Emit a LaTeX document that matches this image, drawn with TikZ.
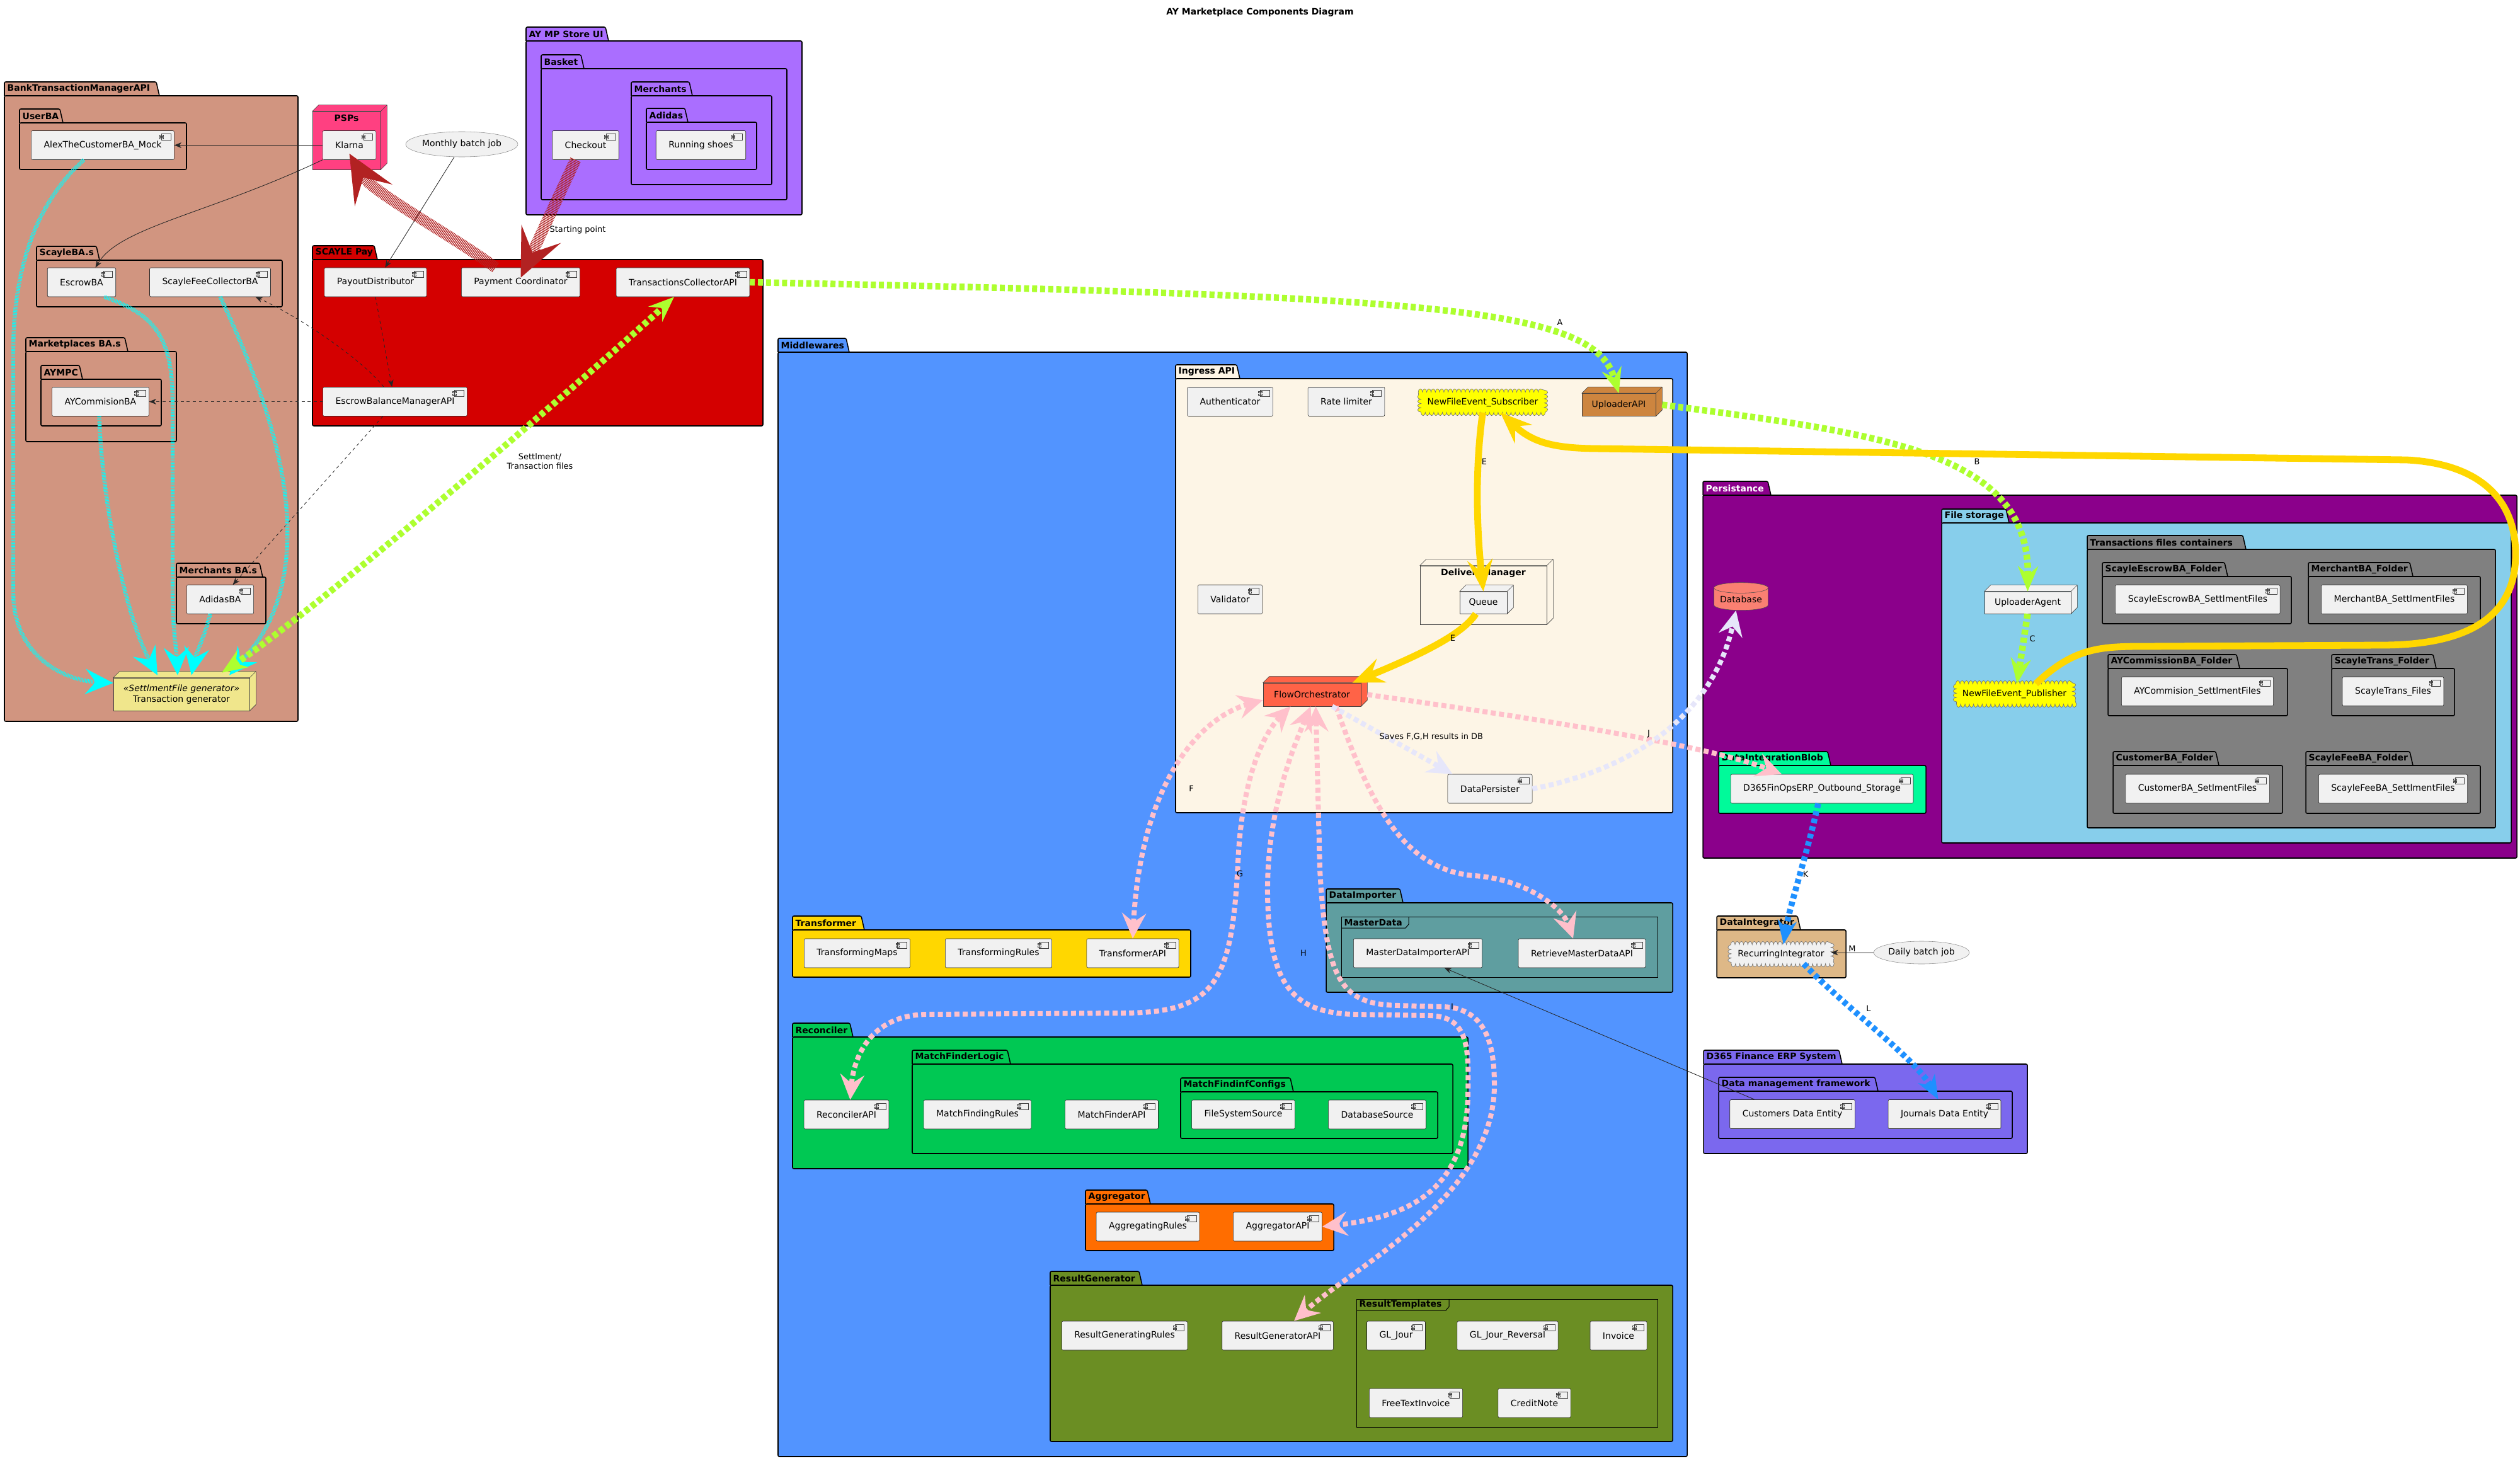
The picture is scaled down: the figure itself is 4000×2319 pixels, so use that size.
\documentclass[tikz,border=0pt]{standalone}
\usepackage{fontspec}
\setmainfont{DejaVu Sans}
\usetikzlibrary{arrows.meta, positioning, shapes.geometric, decorations.pathmorphing}
\definecolor{bankc}{RGB}{209,149,128}
\definecolor{pspc}{RGB}{255,64,129}
\definecolor{storec}{RGB}{170,110,255}
\definecolor{scaylec}{RGB}{212,0,0}
\definecolor{midc}{RGB}{82,148,255}
\definecolor{ingressc}{HTML}{FDF5E6}
\definecolor{transfc}{HTML}{FFD700}
\definecolor{importc}{HTML}{5F9EA0}
\definecolor{reconc}{RGB}{0,200,83}
\definecolor{aggrc}{RGB}{255,109,0}
\definecolor{resultc}{HTML}{6B8E23}
\definecolor{persc}{HTML}{8B008B}
\definecolor{filec}{HTML}{87CEEB}
\definecolor{folderc}{HTML}{808080}
\definecolor{blobc}{HTML}{00FA9A}
\definecolor{integc}{HTML}{DEB887}
\definecolor{erpc}{HTML}{7B68EE}
\definecolor{compc}{HTML}{F1F1F1}
\definecolor{tgc}{HTML}{F0E68C}
\definecolor{uploadc}{HTML}{CD853F}
\definecolor{flowc}{HTML}{FF6347}
\definecolor{dbc}{HTML}{FA8072}
\definecolor{eventc}{HTML}{FFFF00}
\definecolor{firebc}{HTML}{B22222}
\definecolor{greenyc}{HTML}{ADFF2F}
\definecolor{cyanc}{HTML}{00FFFF}
\definecolor{goldc}{HTML}{FFD700}
\definecolor{pinkc}{HTML}{FFC0CB}
\definecolor{lavc}{HTML}{E6E6FA}
\definecolor{bluec}{HTML}{1E90FF}
\newcommand{\fnt}{\fontsize{9.96}{12}\selectfont}
% folder: [text colour]{name}{x0}{tab top}{tab right}{x1}{y1}{fill}{label}
\newcommand{\pkgbox}[9][black]{%
  \draw[pkgline, fill=#8] (#3,#4+22) -- (#3,#4) -- (#5-5,#4) -- (#5,#4+22);
  \draw[pkgline, fill=#8] (#3,#4+22) rectangle (#6,#7);
  \node[pkgtitle, text=#1] (#2) at (#3+3,#4+11) {#9};}
% frame: {name}{x0}{y0}{x1}{y1}{label right}{label}
\newcommand{\frmbox}[7]{%
  \draw[frmline] (#2,#3) rectangle (#4,#5);
  \draw[frmline] (#2,#3+18) -- (#6-5,#3+18) -- (#6,#3+12) -- (#6,#3);
  \node[pkgtitle] (#1) at (#2+3,#3+9) {#7};}

\begin{document}
\begin{tikzpicture}[x=0.025cm, y=-0.025cm,
    pkgline/.style={draw=black, line width=1.1pt, rounded corners=1.5pt},
    frmline/.style={draw=black, line width=0.7pt},
    pkgtitle/.style={anchor=west, inner sep=1pt, font=\fnt\bfseries},
    comp/.style={draw=black!85, line width=0.4pt, fill=compc, rounded corners=1.5pt, minimum height=1.15cm, inner xsep=0.5cm, font=\fnt,
        path picture={\draw[black!75, line width=0.3pt, fill=compc, sharp corners]
            ([xshift=-0.5cm, yshift=-0.13cm]path picture bounding box.north east) rectangle ([xshift=-0.13cm, yshift=-0.38cm]path picture bounding box.north east)
            ([xshift=-0.57cm, yshift=-0.18cm]path picture bounding box.north east) rectangle ([xshift=-0.43cm, yshift=-0.23cm]path picture bounding box.north east)
            ([xshift=-0.57cm, yshift=-0.28cm]path picture bounding box.north east) rectangle ([xshift=-0.43cm, yshift=-0.33cm]path picture bounding box.north east);}},
    node3d/.style={draw=black!75, line width=0.4pt, fill=#1, font=\fnt, inner sep=0pt,
        append after command={\pgfextra{\draw[draw=black!75, line width=0.4pt, fill=#1, line join=round]
            (\tikzlastnode.north west) -- ++(0.25cm,0.25cm) -- ([shift={(0.25cm,0.25cm)}]\tikzlastnode.north east)
            -- ([shift={(0.25cm,0.25cm)}]\tikzlastnode.south east) -- (\tikzlastnode.south east) -- (\tikzlastnode.north east) -- cycle
            (\tikzlastnode.north east) -- ++(0.25cm,0.25cm);}}},
    bumpy/.style={draw=black!55, line width=0.45pt, fill=#1, font=\fnt, inner sep=0pt, minimum height=0.8cm,
        decorate, decoration={bumps, segment length=0.34cm, amplitude=-0.13cm}},
    batch/.style={ellipse, draw=black!45, line width=0.4pt, fill=compc, font=\fnt, inner sep=0pt},
    dbstore/.style={cylinder, shape border rotate=90, aspect=0.25, draw=black!70, line width=0.4pt, fill=dbc, font=\fnt, inner sep=0pt},
    lbl/.style={font=\fontsize{9.2}{11}\selectfont, inner sep=1pt},
    thinhead/.tip={Stealth[length=0.28cm, width=0.22cm, inset=0.08cm]},
    bighead/.tip={Stealth[length=1.9cm, width=1.7cm, inset=0.8cm]},
    greenhead/.tip={Stealth[length=1.0cm, width=0.8cm, inset=0.35cm]},
    cyanhead/.tip={Stealth[length=1.1cm, width=1.0cm, inset=0.4cm]},
    goldhead/.tip={Stealth[length=1.25cm, width=1.0cm, inset=0.45cm]},
    pinkhead/.tip={Stealth[length=1.0cm, width=0.95cm, inset=0.35cm]},
    bluehead/.tip={Stealth[length=0.95cm, width=0.75cm, inset=0.3cm]},
    thinarrow/.style={-thinhead, line width=0.6pt, draw=black!85},
    thindash/.style={thinarrow, dash pattern=on 0.12cm off 0.12cm},
    hatch/.style={draw=firebc, line width=0.45cm, dash pattern=on 0.9pt off 0.9pt, -bighead},
    greenline/.style={draw=greenyc, line width=0.26cm, dash pattern=on 0.2cm off 0.12cm},
    cyanline/.style={draw=cyanc, line width=0.16cm, dash pattern=on 0.8pt off 0.9pt, -cyanhead},
    goldline/.style={draw=goldc, line width=0.27cm, -goldhead},
    pinkline/.style={draw=pinkc, line width=0.2cm, dash pattern=on 0.2cm off 0.13cm},
    lavline/.style={draw=lavc, line width=0.2cm, dash pattern=on 0.2cm off 0.13cm, -pinkhead},
    blueline/.style={draw=bluec, line width=0.24cm, dash pattern=on 0.18cm off 0.13cm, -bluehead}
    ]
    \useasboundingbox (0,0) rectangle (4000,2319);
    \node[font=\fnt\bfseries] (title) at (2000,20) {AY Marketplace Components Diagram};

    % BANK ACCOUNTS
    \pkgbox{bank}{7}{130}{253}{473}{1145}{bankc}{BankTransactionManagerAPI}
    \pkgbox{userba}{31}{173}{100}{296}{269}{bankc}{UserBA}
    \pkgbox{scayleba}{58}{391}{158}{448}{487}{bankc}{ScayleBA.s}
    \pkgbox{mpba}{41}{536}{203}{280}{701}{bankc}{Marketplaces BA.s}
    \pkgbox{aympc}{65}{580}{131}{256}{676}{bankc}{AYMPC}
    \pkgbox{merchba}{280}{894}{417}{422}{990}{bankc}{Merchants BA.s}

    % STORE AND PAYMENTS
    \pkgbox{store}{835}{43}{966}{1273}{341}{storec}{AY MP Store UI}
    \pkgbox{basket}{859}{87}{927}{1249}{317}{storec}{Basket}
    \pkgbox{merchants}{1002}{130}{1099}{1225}{293}{storec}{Merchants}
    \pkgbox{adidas}{1026}{172}{1092}{1201}{269}{storec}{Adidas}
    \pkgbox{scaylepay}{496}{390}{599}{1211}{676}{scaylec}{SCAYLE Pay}

    % MIDDLEWARES
    \pkgbox{middle}{1235}{537}{1348}{2678}{2312}{midc}{Middlewares}
    \pkgbox{ingress}{1866}{579}{1968}{2655}{1290}{ingressc}{Ingress API}
    \pkgbox{transformer}{1258}{1454}{1372}{1890}{1551}{transfc}{Transformer}
    \pkgbox{importer}{2105}{1411}{2227}{2655}{1575}{importc}{DataImporter}
    \frmbox{masterdata}{2129}{1455}{2631}{1551}{2236}{MasterData}
    \pkgbox{reconciler}{1258}{1624}{1354}{2330}{1855}{reconc}{Reconciler}
    \pkgbox{mflogic}{1448}{1667}{1604}{2306}{1831}{reconc}{MatchFinderLogic}
    \pkgbox{mfconfigs}{1874}{1711}{2053}{2282}{1807}{reconc}{MatchFindinfConfigs}
    \pkgbox{aggregator}{1723}{1889}{1826}{2117}{1985}{aggrc}{Aggregator}
    \pkgbox{resultgen}{1667}{2018}{1813}{2655}{2288}{resultc}{ResultGenerator}
    \frmbox{templates}{2153}{2062}{2631}{2265}{2300}{ResultTemplates}

    % PERSISTANCE AND ERP
    \pkgbox[white]{persist}{2703}{764}{2811}{3995}{1362}{persc}{Persistance}
    \pkgbox{filestore}{3082}{808}{3189}{3986}{1338}{filec}{File storage}
    \pkgbox{containers}{3313}{850}{3565}{3961}{1314}{folderc}{Transactions files containers}
    \pkgbox{escrowfold}{3337}{893}{3536}{3637}{990}{folderc}{ScayleEscrowBA\_Folder}
    \pkgbox{merchfold}{3664}{893}{3830}{3937}{990}{folderc}{MerchantBA\_Folder}
    \pkgbox{aycfold}{3346}{1039}{3555}{3631}{1136}{folderc}{AYCommissionBA\_Folder}
    \pkgbox{transfold}{3701}{1039}{3867}{3896}{1136}{folderc}{ScayleTrans\_Folder}
    \pkgbox{custfold}{3354}{1193}{3522}{3623}{1291}{folderc}{CustomerBA\_Folder}
    \pkgbox{feefold}{3660}{1193}{3830}{3937}{1291}{folderc}{ScayleFeeBA\_Folder}
    \pkgbox{blob}{2728}{1193}{2906}{3057}{1291}{blobc}{DataIntegrationBlob}
    \pkgbox{integrator}{2725}{1454}{2858}{2930}{1552}{integc}{DataIntegrator}
    \pkgbox{erp}{2704}{1667}{2924}{3218}{1831}{erpc}{D365 Finance ERP System}
    \pkgbox{dmf}{2728}{1710}{2981}{3194}{1807}{erpc}{Data management framework}

    % NODES
    \node[node3d=pspc, minimum width=2.7cm, minimum height=2.3cm] (psps) at (550,223) {};
    \node[pkgtitle, anchor=north] (pspstitle) at ([yshift=-0.1cm]psps.north) {PSPs};
    \node[node3d=tgc, minimum width=5.4cm, minimum height=1.3cm, align=center] (transgen) at (288,1102) {\textit{«SettlmentFile generator»}\\Transaction generator};
    \node[node3d=ingressc, minimum width=5.025cm, minimum height=2.325cm] (delivery) at (2354.5,944.5) {};
    \node[pkgtitle, anchor=north] (deliverytitle) at ([yshift=-0.08cm]delivery.north) {DeliveryManager};
    \node[node3d=compc, minimum width=1.875cm, minimum height=0.875cm] (queue) at (2354.5,956.5) {Queue};
    \node[node3d=uploadc, minimum width=2.925cm, minimum height=0.9cm] (uploadapi) at (2569.5,642.5) {UploaderAPI};
    \node[node3d=flowc, minimum width=3.875cm, minimum height=0.925cm] (flow) at (2082.5,1102.5) {FlowOrchestrator};
    \node[node3d=compc, minimum width=3.425cm, minimum height=0.875cm] (uploadagent) at (3218.5,956.5) {UploaderAgent};
    \node[bumpy=eventc, minimum width=4.9cm] (subevent) at (2353.5,638.5) {NewFileEvent\_Subscriber};
    \node[bumpy=eventc, minimum width=4.6cm] (pubevent) at (3197.5,1101.5) {NewFileEvent\_Publisher};
    \node[bumpy=compc, minimum width=3.95cm, minimum height=0.75cm] (recint) at (2827,1514.5) {RecurringIntegrator};
    \node[dbstore, minimum width=2.15cm, minimum height=1.1cm] (database) at (2763.5,951) {Database};
    \node[batch, minimum width=4.25cm, minimum height=1.0cm] (batchm) at (733,229) {Monthly batch job};
    \node[batch, minimum width=3.8cm, minimum height=0.9cm] (batchd) at (3050,1512) {Daily batch job};

    % COMPONENTS
    \node[comp] (alex) at (163,230.5) {AlexTheCustomerBA\_Mock};
    \node[comp] (escrowba) at (129.5,448) {EscrowBA};
    \node[comp] (feecollba) at (333.5,448) {ScayleFeeCollectorBA};
    \node[comp] (aycommba) at (159.5,637.5) {AYCommisionBA};
    \node[comp] (adidasba) at (349.5,951.5) {AdidasBA};
    \node[comp] (klarna) at (554.5,230.5) {Klarna};
    \node[comp] (checkout) at (929.5,230.5) {Checkout};
    \node[comp] (shoes) at (1112.5,230.5) {Running shoes};
    \node[comp] (payout) at (596,448) {PayoutDistributor};
    \node[comp] (paycoord) at (826.5,448) {Payment Coordinator};
    \node[comp] (txcollect) at (1084,448) {TransactionsCollectorAPI};
    \node[comp] (escrowmgr) at (627,637.5) {EscrowBalanceManagerAPI};
    \node[comp] (auth) at (1952.5,637.5) {Authenticator};
    \node[comp] (ratelim) at (2137,637.5) {Rate limiter};
    \node[comp] (validator) at (1952.5,951.5) {Validator};
    \node[comp] (persister) at (2365,1252) {DataPersister};
    \node[comp] (transmaps) at (1360.5,1513) {TransformingMaps};
    \node[comp] (transrules) at (1585,1513) {TransformingRules};
    \node[comp] (transapi) at (1798,1513) {TransformerAPI};
    \node[comp] (mdimporter) at (2250.5,1513) {MasterDataImporterAPI};
    \node[comp] (retrieveapi) at (2511,1513) {RetrieveMasterDataAPI};
    \node[comp] (reconapi) at (1343.5,1769) {ReconcilerAPI};
    \node[comp] (mfrules) at (1551.5,1769) {MatchFindingRules};
    \node[comp] (mfapi) at (1764.5,1769) {MatchFinderAPI};
    \node[comp] (fssource) at (1973.5,1769) {FileSystemSource};
    \node[comp] (dbsource) at (2186,1769) {DatabaseSource};
    \node[comp] (aggrrules) at (1822,1947) {AggregatingRules};
    \node[comp] (aggrapi) at (2028,1947) {AggregatorAPI};
    \node[comp] (resgenrules) at (1785,2120) {ResultGeneratingRules};
    \node[comp] (resgenapi) at (2028,2120) {ResultGeneratorAPI};
    \node[comp] (gljour) at (2216,2120) {GL\_Jour};
    \node[comp] (gljourrev) at (2393,2120) {GL\_Jour\_Reversal};
    \node[comp] (invoice) at (2569,2120) {Invoice};
    \node[comp] (freetext) at (2247.5,2227) {FreeTextInvoice};
    \node[comp] (creditnote) at (2435.5,2227) {CreditNote};
    \node[comp] (escrowfiles) at (3488.5,951.5) {ScayleEscrowBA\_SettlmentFiles};
    \node[comp] (merchfiles) at (3800.5,951.5) {MerchantBA\_SettlmentFiles};
    \node[comp] (aycfiles) at (3488,1097.5) {AYCommision\_SettlmentFiles};
    \node[comp] (transfiles) at (3798.5,1097.5) {ScayleTrans\_Files};
    \node[comp] (custfiles) at (3488,1252) {CustomerBA\_SetlmentFiles};
    \node[comp] (feefiles) at (3798.5,1252) {ScayleFeeBA\_SettlmentFiles};
    \node[comp] (outstorage) at (2892,1252) {D365FinOpsERP\_Outbound\_Storage};
    \node[comp] (custentity) at (2845,1768.5) {Customers Data Entity};
    \node[comp] (journals) at (3086.5,1768.5) {Journals Data Entity};

    % THIN CONNECTORS
    \draw[thinarrow] (klarna.west) -- (alex.east);
    \draw[thinarrow] (klarna.south west) .. controls (330,340) and (190,360) .. ([xshift=0.55cm]escrowba.north);
    \draw[thinarrow] ([xshift=-0.3cm]batchm.south) -- ([xshift=0.38cm]payout.north);
    \draw[thindash] (payout.south) -- ([xshift=-0.12cm]escrowmgr.north);
    \draw[thindash] ([xshift=-0.45cm]escrowmgr.north) .. controls (575,570) and (470,500) .. ([xshift=1.8cm]feecollba.south);
    \draw[thindash] (escrowmgr.west) -- (aycommba.east);
    \draw[thindash] ([xshift=-0.48cm]escrowmgr.south) -- ([xshift=0.5cm]adidasba.north);
    \draw[thinarrow] ([xshift=-1.5cm]custentity.north) -- ([xshift=1.05cm]mdimporter.south);
    \draw[thinarrow] (batchd.west) -- node[lbl, above] (lblm) {M} (recint.east |- batchd.west);

    % PAYMENT FLOW
    \draw[hatch] ([xshift=-0.4cm]checkout.south) -- ([yshift=-0.4cm]paycoord.north);
    \draw[hatch] ([xshift=-1cm]paycoord.north) .. controls (720,375) and (590,305) .. ([yshift=0.25cm]klarna.south);

    % BANK FILES
    \draw[cyanline] ([xshift=-0.75cm]alex.south) .. controls (60,320) and (21,420) .. (21,560) -- (21,940) .. controls (21,1040) and (100,1080) .. ([yshift=0.45cm]transgen.west);
    \draw[cyanline] ([xshift=0.9cm]escrowba.south) .. controls (250,500) and (274,540) .. (274,640) -- (274,940) .. controls (274,1000) and (280,1030) .. ([xshift=-0.15cm,yshift=0.1cm]transgen.north);
    \draw[cyanline] ([xshift=-0.05cm]aycommba.south) .. controls (162,800) and (200,980) .. ([xshift=-0.95cm,yshift=0.1cm]transgen.north);
    \draw[cyanline] ([xshift=-0.4cm]adidasba.south) .. controls (325,1010) and (310,1040) .. ([xshift=0.4cm,yshift=0.1cm]transgen.north);
    \draw[cyanline] ([xshift=0.4cm]feecollba.south) .. controls (420,620) and (460,750) .. (456,860) .. controls (452,980) and (400,1030) .. ([xshift=1.9cm,yshift=0.1cm]transgen.north);

    % UPLOAD FLOW
    \draw[greenline, greenhead-greenhead] ([xshift=1.6cm,yshift=0.2cm]transgen.north) .. controls (500,970) and (930,600) .. ([xshift=-0.35cm]txcollect.south);
    \draw[greenline, -greenhead] (txcollect.east) .. controls (2300,470) and (2530,490) .. (uploadapi.north);
    \draw[greenline, -greenhead] ([xshift=0.25cm]uploadapi.east) .. controls (3000,690) and (3222,720) .. (uploadagent.north);
    \draw[greenline, -greenhead] (uploadagent.south) -- ([xshift=0.1cm]pubevent.north);
    \draw[goldline] ([xshift=0.85cm]pubevent.north) .. controls (3290,1030) and (3330,1026) .. (3400,1026) -- (3780,1024)
        .. controls (3900,1024) and (3993,990) .. (3993,880) .. controls (3993,780) and (3920,735) .. (3820,730)
        -- (2530,712) .. controls (2460,711) and (2430,700) .. ([xshift=0.7cm]subevent.south);
    \draw[goldline] (subevent.south) .. controls (2340,750) and (2345,850) .. (queue.north);
    \draw[goldline] ([xshift=-0.3cm]queue.south) .. controls (2320,1010) and (2240,1045) .. ([xshift=1.6cm]flow.north);

    % ORCHESTRATION
    \draw[pinkline, pinkhead-pinkhead] ([yshift=0.25cm]flow.south west) .. controls (1900,1140) and (1810,1250) .. (transapi.north);
    \draw[pinkline, pinkhead-pinkhead] ([xshift=-0.85cm]flow.south) .. controls (2000,1170) and (1970,1250) .. (1965,1370)
        .. controls (1955,1560) and (1930,1608) .. (1780,1608) -- (1470,1610) .. controls (1380,1612) and (1355,1680) .. ([xshift=0.15cm]reconapi.north);
    \draw[pinkline, pinkhead-pinkhead] ([xshift=-0.05cm]flow.south) .. controls (2060,1170) and (2010,1280) .. (2012,1420)
        .. controls (2014,1560) and (2050,1608) .. (2150,1610) -- (2270,1612) .. controls (2330,1614) and (2332,1660) .. (2330,1740)
        .. controls (2326,1880) and (2250,1930) .. (aggrapi.east);
    \draw[pinkline, pinkhead-pinkhead] ([xshift=0.15cm]flow.south) -- (2095,1380) .. controls (2105,1560) and (2130,1594) .. (2220,1596)
        -- (2290,1598) .. controls (2360,1600) and (2372,1660) .. (2372,1722) .. controls (2372,1900) and (2150,2010) .. ([xshift=0.65cm]resgenapi.north);
    \draw[pinkline, -pinkhead] ([xshift=0.95cm]flow.south) .. controls (2170,1260) and (2220,1380) .. (2340,1390)
        .. controls (2420,1395) and (2480,1440) .. ([xshift=-0.35cm]retrieveapi.north);
    \draw[pinkline, -pinkhead] ([xshift=0.25cm]flow.east) .. controls (2400,1135) and (2700,1180) .. ([xshift=-1.6cm]outstorage.north);
    \draw[lavline] ([xshift=0.8cm]flow.south) -- ([xshift=0.2cm]persister.north west);
    \draw[lavline] (persister.east) .. controls (2600,1220) and (2720,1130) .. ([xshift=-0.2cm]database.south);

    % ERP INTEGRATION
    \draw[blueline] ([xshift=-0.15cm]outstorage.south) .. controls (2870,1350) and (2840,1440) .. ([xshift=0.1cm]recint.north);
    \draw[blueline] ([xshift=0.9cm]recint.south) .. controls (2930,1600) and (3040,1680) .. ([xshift=-0.25cm]journals.north);

    % LABELS
    \node[lbl, anchor=west] (lblstart) at (871,365) {Starting point};
    \node[lbl, align=center] (lblsettle) at (857,732) {Settlment/\\Transaction files};
    \node[lbl] (lbla) at (2476,512) {A};
    \node[lbl] (lblb) at (3138,733) {B};
    \node[lbl] (lblc) at (3226,1014) {C};
    \node[lbl] (lble1) at (2356,733) {E};
    \node[lbl] (lble2) at (2306,1013) {E};
    \node[lbl] (lblf) at (1891,1252) {F};
    \node[lbl] (lblg) at (1968,1387) {G};
    \node[lbl] (lblh) at (2069,1513) {H};
    \node[lbl] (lbli) at (2305,1598) {I};
    \node[lbl] (lblj) at (2617,1165) {J};
    \node[lbl] (lblk) at (2866,1388) {K};
    \node[lbl] (lbll) at (2966,1601) {L};
    \node[lbl, anchor=west] (lblsave) at (2188,1169) {Saves F,G,H results in DB};
\end{tikzpicture}
\end{document}
